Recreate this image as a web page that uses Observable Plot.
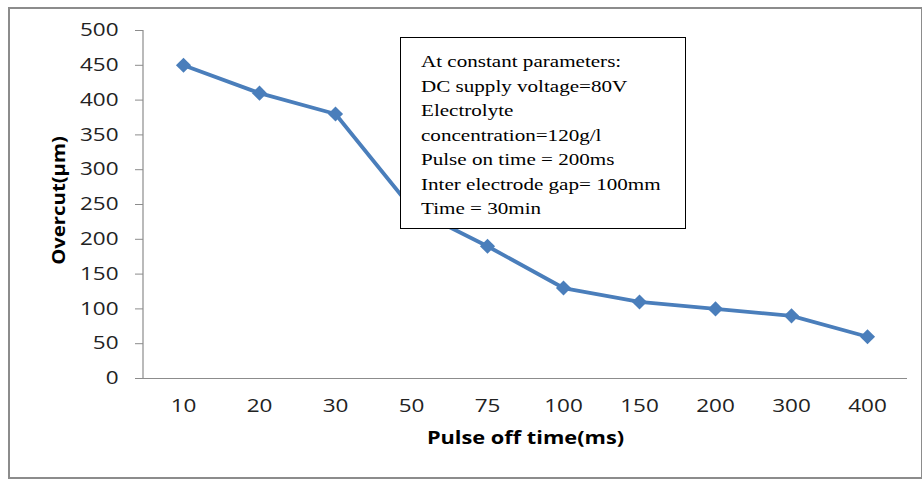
<!DOCTYPE html>
<html>
<head>
<meta charset="utf-8">
<script src="https://cdn.jsdelivr.net/npm/d3@7"></script>
<script src="https://cdn.jsdelivr.net/npm/@observablehq/plot@0.6"></script>
<style>
  html, body { margin: 0; padding: 0; background: #fff; }
  #wrap { position: relative; width: 922px; height: 479px; overflow: hidden; }
  #border { position: absolute; left: 8px; top: 7px; width: 911px; height: 468px; border: 2px solid #8c8c8c; pointer-events: none; }
  #note { position: absolute; left: 400px; top: 37px; width: 284px; height: 190px; border: 1.5px solid #000; background: #fff; overflow: hidden; }
  #note .inner { position: absolute; left: 20px; top: 12px; transform: scaleX(1.24); transform-origin: left top; font-family: "Liberation Serif", serif; font-size: 17px; line-height: 24.5px; color: #000; white-space: nowrap; }
</style>
</head>
<body>
<div id="wrap"></div>
<script>
const categories = ["10", "20", "30", "50", "75", "100", "150", "200", "300", "400"];
const overcut = [450, 410, 380, 245, 190, 130, 110, 100, 90, 60];
const yTicks = [0, 50, 100, 150, 200, 250, 300, 350, 400, 450, 500];
const xLabel = "Pulse off time(ms)";
const yLabel = "Overcut(µm)";
const noteLines = [
  "At constant parameters:",
  "DC supply voltage=80V",
  "Electrolyte",
  "concentration=120g/l",
  "Pulse on time = 200ms",
  "Inter electrode gap= 100mm",
  "Time = 30min"
];

const data = categories.map((c, i) => ({c, v: overcut[i]}));
const blue = "#4a7ebb";
const axisColor = "#8c8c8c";

const chart = Plot.plot({
  width: 922,
  height: 479,
  marginLeft: 143,
  marginRight: 15,
  marginTop: 30,
  marginBottom: 101,
  style: {fontFamily: "'Open Sans', sans-serif", fontSize: "18px", color: "#222", background: "transparent"},
  x: {type: "point", domain: categories, padding: 0.5},
  y: {domain: [0, 500]},
  marks: [
    Plot.ruleY([0], {stroke: axisColor, strokeWidth: 1.2}),
    Plot.axisY({ticks: yTicks, tickSize: 8, tickPadding: 17, stroke: axisColor, label: null, tickFormat: d => String(d), fontSize: 18}),
    Plot.axisX({tickSize: 0, tickPadding: 21, label: null, fontSize: 18}),
    Plot.text([yLabel], {frameAnchor: "left", dx: -84, dy: -4, rotate: -90, fontWeight: "bold", fontSize: 18, fill: "#000", textAnchor: "middle", className: "ylab"}),
    Plot.text([xLabel], {frameAnchor: "bottom", dy: 65, dx: 0, fontWeight: "bold", fontSize: 18, fill: "#000", textAnchor: "middle", className: "xlab"}),
    Plot.line(data, {x: "c", y: "v", stroke: blue, strokeWidth: 3.8}),
    Plot.dot(data, {x: "c", y: "v", symbol: "diamond2", r: 6.8, fill: blue, stroke: "none"})
  ]
});

const svg = d3.select(chart);
// y-axis line
svg.append("line").attr("x1", 143).attr("x2", 143).attr("y1", 30).attr("y2", 378).attr("stroke", axisColor).attr("stroke-width", 1.2);
// horizontal stretch of text to match reference proportions
svg.selectAll("text").each(function() {
  const t = d3.select(this);
  const tr = t.attr("transform") || "";
  const g = this.closest(".xlab");
  if (tr.includes("rotate")) t.attr("transform", tr + " scale(1.13,1)");
  else if (g) t.attr("transform", tr + " scale(1.21,1)");
  else t.attr("transform", tr + " scale(1.25,1)");
});

const wrap = document.getElementById("wrap");
wrap.appendChild(chart);
const border = document.createElement("div"); border.id = "border"; wrap.appendChild(border);
const note = document.createElement("div"); note.id = "note";
const inner = document.createElement("div"); inner.className = "inner";
inner.innerHTML = noteLines.map(s => `<div>${s}</div>`).join("");
note.appendChild(inner); wrap.appendChild(note);
</script>
</body>
</html>
